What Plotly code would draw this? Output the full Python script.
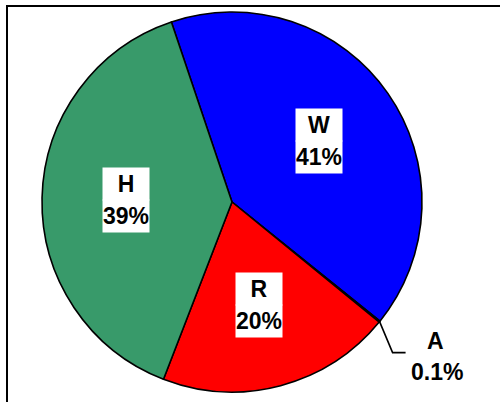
import math
import plotly.graph_objects as go

# ---- data ----
labels = ["W", "A", "R", "H"]
values = [41, 0.1, 20, 39]
colors = ["#0000FF", "#FFFF00", "#FF0000", "#389A6A"]

# ---- layout geometry (style) ----
W_PX, H_PX = 500, 402
ML, MR, MT, MB = 42, 78, 12, 10
PW, PH = W_PX - ML - MR, H_PX - MT - MB
CX, CY = ML + PW / 2, MT + PH / 2
R = min(PW, PH) / 2
ROT = -18.6
LABEL_FRAC = 0.56


def px2paper(x, y):
    return (x - ML) / PW, 1 - (y - MT) / PH


total = sum(values)
mids = []
acc = ROT
for v in values:
    span = 360 * v / total
    mids.append(acc + span / 2)
    acc += span

fig = go.Figure(
    go.Pie(
        labels=labels,
        values=values,
        sort=False,
        direction="clockwise",
        rotation=ROT,
        marker=dict(colors=colors, line=dict(color="black", width=1.6)),
        textinfo="none",
        hoverinfo="label+percent",
        showlegend=False,
    )
)

annotations = []
shapes = []
FONT = dict(family="Liberation Sans, Arial, sans-serif", size=23, color="black")

for lab, v, m in zip(labels, values, mids):
    a = math.radians(m)
    pct = f"{v:g}%"
    if v >= 1:
        px = CX + LABEL_FRAC * R * math.sin(a)
        py = CY - LABEL_FRAC * R * math.cos(a)
        x, y = px2paper(px, py)
        for txt, ys in ((f"<b>{lab}</b>", 16), (f"<b>{pct}</b>", -16)):
            annotations.append(dict(
                x=x, y=y, xref="paper", yref="paper", text=txt, showarrow=False,
                font=FONT, bgcolor="white", width=46, height=32, borderpad=0,
                xanchor="center", yanchor="middle", yshift=ys,
            ))
    else:
        ex = CX + R * math.sin(a)
        ey = CY - R * math.cos(a)
        p0 = px2paper(ex, ey)
        p1 = px2paper(ex + 13, ey + 31)
        p2 = px2paper(ex + 26, ey + 31)
        shapes.append(dict(
            type="path", xref="paper", yref="paper",
            path=f"M {p0[0]},{p0[1]} L {p1[0]},{p1[1]} L {p2[0]},{p2[1]}",
            line=dict(color="black", width=1.6),
        ))
        lx, ly = px2paper(ex + 56, ey + 19)
        annotations.append(dict(
            x=lx, y=ly, xref="paper", yref="paper", text=f"<b>{lab}</b>",
            showarrow=False, font=FONT, xanchor="center", yanchor="middle",
        ))
        lx, ly = px2paper(ex + 57, ey + 50)
        annotations.append(dict(
            x=lx, y=ly, xref="paper", yref="paper", text=f"<b>{pct}</b>",
            showarrow=False, font=FONT, xanchor="center", yanchor="middle",
        ))

# outer frame (cropped at right/bottom)
f0 = px2paper(7, 6)
f1 = px2paper(520, 420)
shapes.append(dict(
    type="rect", xref="paper", yref="paper",
    x0=f0[0], y0=f1[1], x1=f1[0], y1=f0[1],
    line=dict(color="black", width=2), fillcolor="rgba(0,0,0,0)",
))

fig.update_layout(
    width=W_PX, height=H_PX,
    margin=dict(l=ML, r=MR, t=MT, b=MB),
    paper_bgcolor="white", plot_bgcolor="white",
    annotations=annotations, shapes=shapes,
)

fig.write_html("out.html")
